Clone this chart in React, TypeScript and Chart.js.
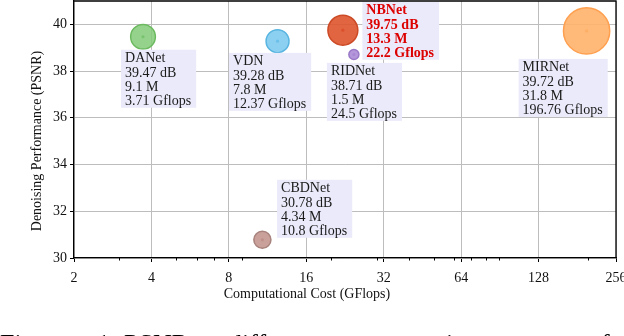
import React, { useEffect, useRef } from "react";
import { Chart, registerables } from "chart.js";
Chart.register(...registerables);

const METHODS = ["DANet", "VDN", "NBNet", "RIDNet", "MIRNet", "CBDNet"];
const GFLOPS = [3.71, 12.37, 22.2, 24.5, 196.76, 10.8];
const PSNR = [39.47, 39.28, 39.75, 38.71, 39.72, 30.78];
const PARAMS_M = [9.1, 7.8, 13.3, 1.5, 31.8, 4.34];
const HIGHLIGHT = "NBNet";

const X_TICKS = [2, 4, 8, 16, 32, 64, 128, 256];
const X_MINOR = [3, 5, 6, 7, 9, 20, 30, 40, 50, 60, 70, 80, 90, 200];
const Y_TICKS = [30, 32, 34, 36, 38, 40];

const FILL = [
  "rgba(130,202,120,0.85)",
  "rgba(120,200,238,0.85)",
  "rgba(222,84,44,0.9)",
  "rgba(172,140,214,0.9)",
  "rgba(255,178,108,0.9)",
  "rgba(196,150,144,0.9)",
];
const EDGE = ["#6cba60", "#58b4e0", "#cc4a26", "#9a78c8", "#ffa050", "#a8827c"];
const DOT = ["#3e9a36", "#2a90c8", "#c02020", "#8a5cc0", "#f08a30", "#8c564b"];
const LABEL_OFFSETS = [
  [-22, 13],
  [-48.5, 11.7],
  [19.5, -28.5],
  [-27, 8.4],
  [-68, 28],
  [14.7, -60],
];

const CAPTION_WORDS = ["Figure", "1:", "PSNR", "vs.", "different", "measures", "in", "terms", "of"];
const CAPTION_LEFT = [0, 97, 124, 199, 229, 324, 446, 492, 588];

const FONT = "'Liberation Serif', 'Times New Roman', serif";

export default function App() {
  const ref = useRef<HTMLCanvasElement>(null);
  useEffect(() => {
    document.body.style.margin = "0";
    const canvas = ref.current!;
    const radius = PARAMS_M.map((p) => 4.1 * Math.sqrt(p));

    const decor = {
      id: "decor",
      afterDatasetsDraw(chart: any) {
        const { ctx } = chart;
        const xs = chart.scales.x;
        const ys = chart.scales.y;
        ctx.save();
        METHODS.forEach((m, i) => {
          const px = xs.getPixelForValue(GFLOPS[i]);
          const py = ys.getPixelForValue(PSNR[i]);
          const lines = [m, `${PSNR[i]} dB`, `${PARAMS_M[i]} M`, `${GFLOPS[i]} Gflops`];
          const hl = m === HIGHLIGHT;
          ctx.font = `${hl ? "bold " : ""}14px ${FONT}`;
          const w = Math.max(...lines.map((l) => ctx.measureText(l).width));
          const [ox, oy] = LABEL_OFFSETS[i];
          const bx = px + ox;
          const by = py + oy;
          ctx.fillStyle = "rgb(234,234,250)";
          ctx.fillRect(bx, by, w + 9, 58);
          ctx.fillStyle = hl ? "#dd0000" : "#1a1a1a";
          ctx.textAlign = "left";
          ctx.textBaseline = "alphabetic";
          lines.forEach((l, k) => ctx.fillText(l, bx + 4, by + 12.5 + k * 14.3));
        });
        ctx.restore();
      },
      afterDraw(chart: any) {
        const { ctx, chartArea } = chart;
        const xs = chart.scales.x;
        ctx.save();
        ctx.strokeStyle = "#000";
        ctx.lineWidth = 1.3;
        ctx.beginPath();
        ctx.moveTo(chartArea.left, chartArea.top);
        ctx.lineTo(chartArea.right, chartArea.top);
        ctx.lineTo(chartArea.right, chartArea.bottom);
        ctx.stroke();
        ctx.lineWidth = 1;
        ctx.beginPath();
        X_MINOR.forEach((v) => {
          const x = Math.round(xs.getPixelForValue(v)) + 0.5;
          ctx.moveTo(x, chartArea.bottom);
          ctx.lineTo(x, chartArea.bottom + 2.5);
        });
        ctx.stroke();
        ctx.fillStyle = "#111";
        ctx.font = `14px ${FONT}`;
        ctx.textAlign = "center";
        ctx.textBaseline = "middle";
        ctx.fillText("Computational Cost (GFlops)", 307, 294);
        ctx.translate(37.7, 141);
        ctx.rotate(-Math.PI / 2);
        ctx.fillText("Denoising Performance (PSNR)", 0, 0);
        ctx.restore();
      },
    };

    const chart = new Chart(canvas, {
      type: "bubble",
      data: {
        datasets: [
          {
            data: METHODS.map((_, i) => ({ x: GFLOPS[i], y: PSNR[i], r: radius[i] })),
            backgroundColor: FILL,
            borderColor: EDGE,
            borderWidth: 1.5,
            hoverRadius: 0,
          },
          {
            data: METHODS.map((_, i) => ({ x: GFLOPS[i], y: PSNR[i], r: 1.6 })),
            backgroundColor: DOT,
            borderWidth: 0,
            hoverRadius: 0,
          },
        ],
      },
      options: {
        animation: false,
        responsive: false,
        devicePixelRatio: 1,
        layout: { autoPadding: false, padding: { top: 1, right: 8, left: 0, bottom: 0 } },
        plugins: { legend: { display: false }, tooltip: { enabled: false } },
        events: [],
        scales: {
          x: {
            type: "logarithmic",
            min: 2,
            max: 256,
            afterBuildTicks: (s: any) => {
              s.ticks = X_TICKS.map((v) => ({ value: v }));
            },
            afterFit: (s: any) => {
              s.height = 78;
              s.paddingLeft = 0;
              s.paddingRight = 0;
            },
            ticks: {
              callback: (v: any) => String(v),
              autoSkip: false,
              maxRotation: 0,
              font: { family: FONT, size: 14 },
              color: "#111",
              padding: 8,
            },
            grid: { color: "#bdbdbd", lineWidth: 1, tickLength: 4, tickColor: "#000", drawTicks: true },
            border: { color: "#000", width: 1.3 },
          },
          y: {
            type: "linear",
            min: 30,
            max: 41,
            afterBuildTicks: (s: any) => {
              s.ticks = Y_TICKS.map((v) => ({ value: v }));
            },
            afterFit: (s: any) => {
              s.width = 74;
              s.paddingTop = 0;
              s.paddingBottom = 0;
            },
            ticks: {
              font: { family: FONT, size: 14 },
              color: "#111",
              padding: 3,
            },
            grid: { color: "#bdbdbd", lineWidth: 1, tickLength: 4, tickColor: "#000", drawTicks: true },
            border: { color: "#000", width: 1.3 },
          },
        },
      },
      plugins: [decor],
    });
    return () => chart.destroy();
  }, []);

  return (
    <div style={{ position: "relative", width: 624, height: 336, overflow: "hidden", background: "#fff" }}>
      <canvas ref={ref} width={624} height={336} style={{ width: 624, height: 336, display: "block" }} />
      {CAPTION_WORDS.map((w, i) => (
        <span
          key={i}
          style={{
            position: "absolute",
            left: CAPTION_LEFT[i],
            top: 331,
            fontFamily: FONT,
            fontSize: 26,
            lineHeight: "26px",
            whiteSpace: "nowrap",
            color: "#000",
          }}
        >
          {w}
        </span>
      ))}
    </div>
  );
}
